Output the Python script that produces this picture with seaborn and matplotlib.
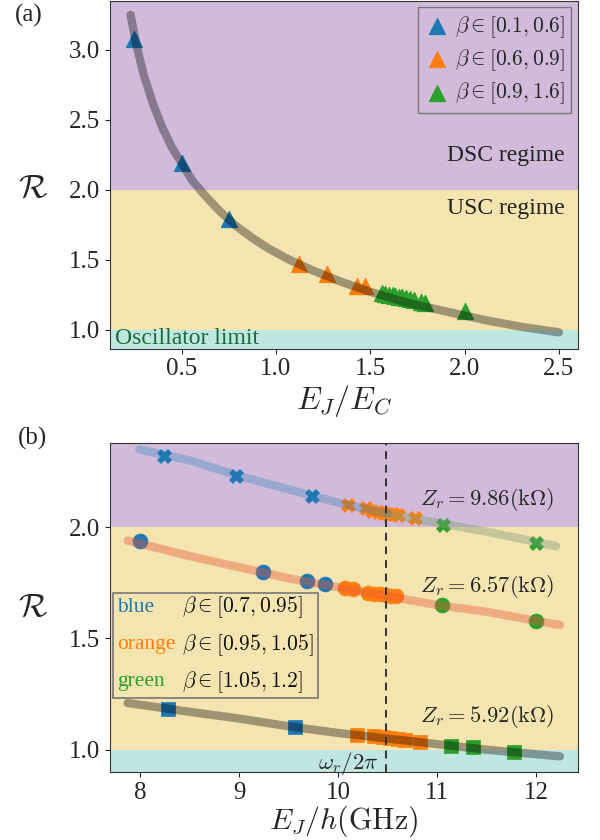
import matplotlib
matplotlib.use("Agg")
import matplotlib.pyplot as plt
import seaborn as sns
from matplotlib.patches import Rectangle

# ---- data (a) ----
curve_a_x = [0.23, 0.26, 0.30, 0.35, 0.40, 0.45, 0.50, 0.56, 0.63, 0.70, 0.78, 0.87, 0.96, 1.07,
             1.20, 1.35, 1.50, 1.70, 1.90, 2.10, 2.30, 2.50]
curve_a_r = [3.25, 3.04, 2.82, 2.61, 2.44, 2.30, 2.19, 2.06, 1.95, 1.85, 1.75, 1.66, 1.58, 1.50,
             1.42, 1.34, 1.27, 1.19, 1.13, 1.07, 1.02, 0.98]

blue_a_x = [0.25, 0.50, 0.75]
blue_a_r = [3.08, 2.19, 1.79]
orange_a_x = [1.12, 1.27, 1.43, 1.47]
orange_a_r = [1.47, 1.40, 1.31, 1.31]
green_a_x = [1.56, 1.58, 1.60, 1.62, 1.63, 1.65, 1.67, 1.69, 1.71, 1.73, 1.77, 1.79, 2.00]
green_a_r = [1.26, 1.255, 1.25, 1.245, 1.24, 1.235, 1.23, 1.225, 1.22, 1.21, 1.20, 1.19, 1.13]
legend_a = [r"$\beta\in[0.1,0.6]$", r"$\beta\in[0.6,0.9]$", r"$\beta\in[0.9,1.6]$"]

# ---- data (b) ----
z_labels = [r"$Z_r=9.86(\mathrm{k}\Omega)$", r"$Z_r=6.57(\mathrm{k}\Omega)$", r"$Z_r=5.92(\mathrm{k}\Omega)$"]
c1_x = [7.99, 8.5, 9.0, 9.5, 10.0, 10.5, 11.0, 11.5, 12.2]
c1_r = [2.35, 2.30, 2.23, 2.17, 2.11, 2.06, 2.02, 1.98, 1.915]
c2_x = [7.87, 8.5, 9.0, 9.5, 10.0, 10.5, 11.0, 11.5, 12.24]
c2_r = [1.94, 1.87, 1.82, 1.77, 1.73, 1.69, 1.65, 1.62, 1.56]
c3_x = [7.87, 8.5, 9.0, 9.5, 10.0, 10.5, 11.0, 11.5, 12.24]
c3_r = [1.21, 1.17, 1.14, 1.105, 1.075, 1.05, 1.025, 1.00, 0.97]

x_blue_x = [8.24, 8.97, 9.73]
x_blue_r = [2.32, 2.23, 2.14]
x_orange_x = [10.10, 10.28, 10.34, 10.40, 10.45, 10.50, 10.55, 10.60, 10.77]
x_orange_r = [2.10, 2.085, 2.075, 2.07, 2.065, 2.06, 2.058, 2.055, 2.04]
x_green_x = [11.06, 12.00]
x_green_r = [2.01, 1.93]

o_blue_x = [8.00, 9.24, 9.68, 9.86]
o_blue_r = [1.94, 1.80, 1.757, 1.745]
o_orange_x = [10.07, 10.15, 10.30, 10.36, 10.42, 10.48, 10.53, 10.58]
o_orange_r = [1.725, 1.722, 1.705, 1.70, 1.698, 1.695, 1.692, 1.69]
o_green_x = [11.05, 12.00]
o_green_r = [1.65, 1.58]

s_blue_x = [8.28, 9.56]
s_blue_r = [1.185, 1.10]
s_orange_x = [10.19, 10.36, 10.45, 10.52, 10.60, 10.67, 10.83]
s_orange_r = [1.064, 1.06, 1.056, 1.052, 1.048, 1.045, 1.035]
s_green_x = [11.14, 11.36, 11.78]
s_green_r = [1.018, 1.01, 0.99]

omega_r = 10.48
legend_b_names = ["blue", "orange", "green"]
legend_b_ranges = [r"$\beta\in[0.7,0.95]$", r"$\beta\in[0.95,1.05]$", r"$\beta\in[1.05,1.2]$"]

sns.set_style("ticks")
plt.rcParams["font.family"] = ["Liberation Serif", "DejaVu Serif"]
plt.rcParams["mathtext.fontset"] = "cm"
plt.rcParams["axes.edgecolor"] = "#333333"

purple = "#d0bcda"
yellow = "#f4e4b0"
teal = "#bfe7df"
cols = ["#1f77b4", "#ff7f0e", "#2ca02c"]

fig = plt.figure(figsize=(6, 8.4), dpi=100)
ax1 = fig.add_axes([0.183, 0.585, 0.78, 0.414])
ax2 = fig.add_axes([0.183, 0.081, 0.78, 0.392])

# ---------- panel (a) ----------
ax1.axhspan(2.0, 4, color=purple, lw=0)
ax1.axhspan(1.0, 2.0, color=yellow, lw=0)
ax1.axhspan(0, 1.0, color=teal, lw=0)
sns.lineplot(x=curve_a_x, y=curve_a_r, ax=ax1, color="k", alpha=0.35, lw=6, sort=False)
for xs, rs, c, lab in zip([blue_a_x, orange_a_x, green_a_x], [blue_a_r, orange_a_r, green_a_r], cols, legend_a):
    sns.scatterplot(x=xs, y=rs, ax=ax1, marker="^", s=135, color=c, edgecolor=c, linewidth=0.8, label=lab)
ax1.set_xlim(0.12, 2.6)
ax1.set_ylim(0.864, 3.35)
ax1.set_xticks([0.5, 1.0, 1.5, 2.0, 2.5])
ax1.set_yticks([1.0, 1.5, 2.0, 2.5, 3.0])
ax1.set_xlabel(r"$E_J/E_C$", fontsize=23, labelpad=2)
ax1.set_ylabel(r"$\mathcal{R}$", fontsize=24, rotation=0, labelpad=16, va="center")
ax1.yaxis.set_label_coords(-0.165, 0.46)
ax1.tick_params(labelsize=18)
ax1.legend(loc="upper right", fontsize=15.5, frameon=True, fancybox=False, framealpha=1,
           facecolor="none", edgecolor="#777777", handletextpad=0.2, borderpad=0.3,
           labelspacing=0.35, handlelength=1.2, borderaxespad=0.3)
ax1.text(0.972, 0.556, "DSC regime", transform=ax1.transAxes, ha="right", va="center", fontsize=17, color="#222222")
ax1.text(0.972, 0.404, "USC regime", transform=ax1.transAxes, ha="right", va="center", fontsize=17, color="#222222")
ax1.text(0.012, 0.03, "Oscillator limit", transform=ax1.transAxes, ha="left", va="center", fontsize=17, color="#1a6a3c")
fig.text(0.025, 0.982, "(a)", fontsize=18, ha="left", va="center")

# ---------- panel (b) ----------
ax2.axhspan(2.0, 3, color=purple, lw=0)
ax2.axhspan(1.0, 2.0, color=yellow, lw=0)
ax2.axhspan(0, 1.0, color=teal, lw=0)
split = 5
sns.lineplot(x=c1_x[:split + 1], y=c1_r[:split + 1], ax=ax2, color=cols[0], alpha=0.3, lw=6, sort=False)
sns.lineplot(x=c1_x[split:], y=c1_r[split:], ax=ax2, color="#7a9a78", alpha=0.4, lw=6, sort=False)
sns.lineplot(x=c2_x, y=c2_r, ax=ax2, color="#e8573a", alpha=0.4, lw=6, sort=False)
sns.lineplot(x=c3_x, y=c3_r, ax=ax2, color="k", alpha=0.35, lw=6, sort=False)

groups = [
    ("X", [x_blue_x, x_orange_x, x_green_x], [x_blue_r, x_orange_r, x_green_r], 100),
    ("o", [o_blue_x, o_orange_x, o_green_x], [o_blue_r, o_orange_r, o_green_r], 115),
    ("s", [s_blue_x, s_orange_x, s_green_x], [s_blue_r, s_orange_r, s_green_r], 105),
]
for m, xs_l, rs_l, sz in groups:
    for xs, rs, c in zip(xs_l, rs_l, cols):
        sns.scatterplot(x=xs, y=rs, ax=ax2, marker=m, s=sz, color=c, edgecolor=c, linewidth=0.5, legend=False)

ax2.axvline(omega_r, color="#333333", ls="--", lw=1.4, dashes=(4, 3))
ax2.text(10.41, 0.94, r"$\omega_r/2\pi$", ha="right", va="center", fontsize=16.5)
ax2.text(12.18, 2.126, z_labels[0], ha="right", va="center", fontsize=16.2)
ax2.text(12.18, 1.734, z_labels[1], ha="right", va="center", fontsize=16.2)
ax2.text(12.18, 1.149, z_labels[2], ha="right", va="center", fontsize=16.2)

ax2.set_xlim(7.69, 12.42)
ax2.set_ylim(0.9, 2.38)
ax2.set_xticks([8, 9, 10, 11, 12])
ax2.set_yticks([1.0, 1.5, 2.0])
ax2.set_xlabel(r"$E_J/h(\mathrm{GHz})$", fontsize=21.5, labelpad=0)
ax2.set_ylabel(r"$\mathcal{R}$", fontsize=24, rotation=0, labelpad=16, va="center")
ax2.yaxis.set_label_coords(-0.165, 0.5)
ax2.tick_params(labelsize=18)

ax2.add_patch(Rectangle((0.006, 0.225), 0.439, 0.319, transform=ax2.transAxes, fill=False,
                        edgecolor="#777777", lw=1.2, zorder=5))
row_y = [0.50, 0.386, 0.274]
for name, rng, c, yy in zip(legend_b_names, legend_b_ranges, cols, row_y):
    ax2.text(0.015, yy, name, transform=ax2.transAxes, color=c, fontsize=15.5, ha="left", va="center")
    ax2.text(0.155, yy, rng, transform=ax2.transAxes, color="#111111", fontsize=15.5, ha="left", va="center")
fig.text(0.03, 0.478, "(b)", fontsize=18, ha="left", va="center")

fig.savefig("out.png", dpi=100)
